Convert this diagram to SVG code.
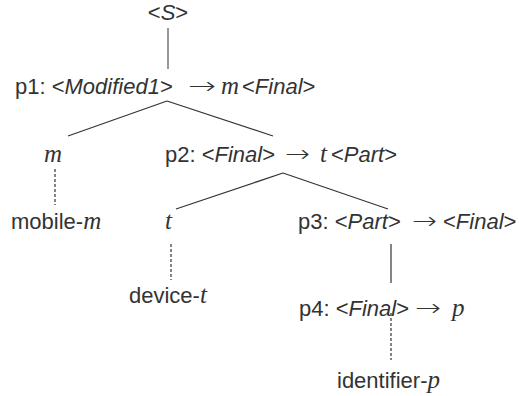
<svg xmlns="http://www.w3.org/2000/svg" width="519" height="396" viewBox="0 0 519 396">
<style>
.t{font-family:"Liberation Sans",Arial,sans-serif;font-size:22px;fill:#333}
.i{font-style:italic}
.v{font-family:"Liberation Serif","Times New Roman",serif;font-style:italic;font-size:25px}
.a{font-family:"DejaVu Sans",sans-serif;font-size:24px;font-weight:200;fill:#333}
.e{stroke:#333;stroke-width:1.2;fill:none}
.s{stroke:#777;stroke-width:1.5}
.d{stroke-dasharray:3,2}
</style>
<rect width="519" height="396" fill="#fff"/>
<g id="connectors">
<path class="e s" d="M168,28 V69"/>
<path class="e" d="M167,101 L68,136"/>
<path class="e" d="M167,101 L273,136"/>
<path class="e d" d="M55,169 V205"/>
<path class="e" d="M283,173 L176,209"/>
<path class="e" d="M283,173 L388,209"/>
<path class="e d" d="M171,244 V280"/>
<path class="e" d="M391,244 V283"/>
<path class="e d" d="M391,313 V360"/>
</g>
<g id="S"><text class="t" x="168" y="20" text-anchor="middle">&lt;<tspan class="i">S</tspan>&gt;</text></g>
<g id="p1"><text class="t" y="94"><tspan x="15">p1: &lt;</tspan><tspan class="i">Modified1</tspan>&gt;<tspan x="221" class="v">m</tspan><tspan x="242">&lt;</tspan><tspan class="i">Final</tspan>&gt;</text><text class="a" x="188" y="94" textLength="28" lengthAdjust="spacingAndGlyphs">→</text></g>
<g id="m"><text class="t v" x="44" y="162">m</text></g>
<g id="mobile-m"><text class="t" x="11" y="229">mobile-<tspan class="v">m</tspan></text></g>
<g id="p2"><text class="t" y="162"><tspan x="165">p2: &lt;</tspan><tspan class="i">Final</tspan>&gt;<tspan x="320" class="v">t</tspan><tspan x="331">&lt;</tspan><tspan class="i">Part</tspan>&gt;</text><text class="a" x="285" y="162" textLength="25" lengthAdjust="spacingAndGlyphs">→</text></g>
<g id="t"><text class="t v" x="165" y="229">t</text></g>
<g id="device-t"><text class="t" x="129" y="303">device-<tspan class="v">t</tspan></text></g>
<g id="p3"><text class="t" y="229"><tspan x="298">p3: &lt;</tspan><tspan class="i">Part</tspan>&gt;<tspan x="443">&lt;</tspan><tspan class="i">Final</tspan>&gt;</text><text class="a" x="412" y="229" textLength="25" lengthAdjust="spacingAndGlyphs">→</text></g>
<g id="p4"><text class="t" y="316"><tspan x="299">p4: &lt;</tspan><tspan class="i">Final</tspan>&gt;<tspan x="452" class="v">p</tspan></text><text class="a" x="415" y="316" textLength="26" lengthAdjust="spacingAndGlyphs">→</text></g>
<g id="identifier-p"><text class="t" x="337" y="388">identifier-<tspan class="v">p</tspan></text></g>
</svg>
